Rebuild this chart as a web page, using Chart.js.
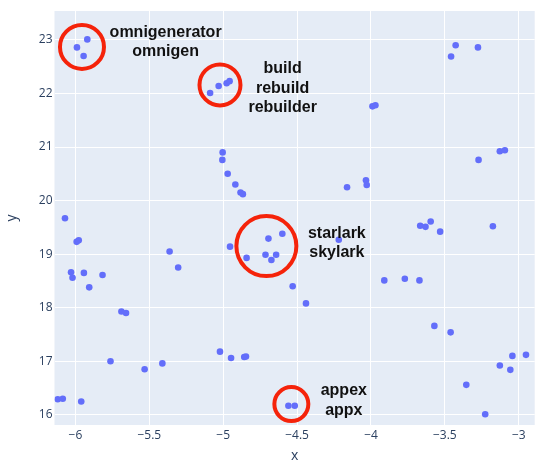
<!DOCTYPE html>
<html>
<head>
<meta charset="utf-8">
<script src="https://cdn.jsdelivr.net/npm/chart.js@4.4.1/dist/chart.umd.min.js"></script>
<style>
  html, body { margin: 0; padding: 0; background: #ffffff; }
  #wrap { width: 538px; height: 461px; }
</style>
</head>
<body>
<div id="wrap"><canvas id="chart" width="538" height="461"></canvas></div>
<script>
// point coordinates
const xs = [
  -5.99, -5.92, -5.945, -5.089, -5.031, -4.977, -4.957, -5.004, -5.006, -3.427,
  -3.458, -3.276, -3.99, -3.97, -3.128, -3.094, -3.272, -6.071, -5.992, -5.978,
  -6.03, -6.02, -5.943, -5.907, -5.817, -5.363, -5.305, -5.689, -5.658, -5.763,
  -5.532, -5.412, -6.12, -6.086, -5.961, -4.97, -4.918, -4.883, -4.867, -4.954,
  -4.842, -4.694, -4.60, -4.714, -4.642, -4.674, -4.53, -4.44, -4.218, -4.162,
  -4.034, -4.029, -3.667, -3.631, -3.596, -3.532, -3.175, -3.91, -3.771, -3.672,
  -5.022, -4.947, -4.858, -4.846, -4.559, -4.516, -3.571, -3.461, -3.355, -3.227,
  -3.128, -3.057, -3.043, -2.951
];
const ys = [
  22.86, 23.01, 22.70, 22.01, 22.14, 22.19, 22.23, 20.90, 20.76, 22.90,
  22.69, 22.86, 21.76, 21.78, 20.92, 20.94, 20.76, 19.67, 19.23, 19.26,
  18.66, 18.56, 18.65, 18.38, 18.61, 19.05, 18.75, 17.93, 17.90, 17.00,
  16.85, 16.96, 16.29, 16.30, 16.25, 20.50, 20.30, 20.15, 20.12, 19.14,
  18.93, 19.29, 19.38, 18.99, 18.99, 18.89, 18.40, 18.08, 19.27, 20.25,
  20.38, 20.29, 19.53, 19.51, 19.61, 19.42, 19.52, 18.51, 18.54, 18.51,
  17.18, 17.06, 17.08, 17.09, 16.17, 16.17, 17.66, 17.54, 16.56, 16.01,
  16.92, 16.84, 17.10, 17.12
];

// highlighted clusters: circle centre + label centre (data units)
const circleX = [-5.956, -5.022, -4.708, -4.539];
const circleY = [22.87, 22.16, 19.15, 16.20];
const circleR = [22, 20.5, 30, 17];
const labelX = [-5.390, -4.598, -4.231, -4.184];
const labelY = [22.96, 22.10, 19.21, 16.27];
const labelText = [
  ['omnigenerator', 'omnigen'],
  ['build', 'rebuild', 'rebuilder'],
  ['starlark', 'skylark'],
  ['appex', 'appx']
];

const xMin = -6.142, xMax = -2.892;
const yMin = 15.81, yMax = 23.54;

const minus = v => String(v).replace('-', '\u2212');

const plotBg = {
  id: 'plotBg',
  beforeDraw(chart) {
    const { ctx, chartArea: a } = chart;
    ctx.save();
    ctx.fillStyle = '#E5ECF6';
    ctx.fillRect(a.left, a.top, a.right - a.left, a.bottom - a.top);
    ctx.restore();
  }
};

const marks = {
  id: 'marks',
  afterDatasetsDraw(chart) {
    const { ctx, scales: { x, y } } = chart;
    ctx.save();
    // red rings
    ctx.strokeStyle = 'rgb(245,35,10)';
    ctx.lineWidth = 4;
    for (let i = 0; i < circleX.length; i++) {
      ctx.beginPath();
      ctx.arc(x.getPixelForValue(circleX[i]), y.getPixelForValue(circleY[i]), circleR[i], 0, Math.PI * 2);
      ctx.stroke();
    }
    // labels
    ctx.fillStyle = '#111111';
    ctx.font = 'bold 16px "Liberation Sans", Arial, sans-serif';
    ctx.textAlign = 'center';
    ctx.textBaseline = 'middle';
    const lh = 19.5;
    for (let i = 0; i < labelText.length; i++) {
      const lines = labelText[i];
      const cx = x.getPixelForValue(labelX[i]);
      const cy = y.getPixelForValue(labelY[i]);
      lines.forEach((t, j) => {
        ctx.fillText(t, cx, cy + (j - (lines.length - 1) / 2) * lh);
      });
    }
    ctx.restore();
  }
};

const tickFont = { family: '"Open Sans", sans-serif', size: 12 };
const titleFont = { family: '"Open Sans", sans-serif', size: 14 };

new Chart(document.getElementById('chart').getContext('2d'), {
  type: 'scatter',
  data: {
    datasets: [{
      data: xs.map((v, i) => ({ x: v, y: ys[i] })),
      backgroundColor: '#636efa',
      borderWidth: 0,
      pointRadius: 3.3,
      pointHoverRadius: 3.3
    }]
  },
  options: {
    responsive: false,
    animation: false,
    layout: { padding: { left: 0, top: 11, right: 1, bottom: 0 } },
    plugins: {
      legend: { display: false },
      tooltip: { enabled: false }
    },
    scales: {
      x: {
        type: 'linear',
        min: xMin,
        max: xMax,
        afterFit(scale) { scale.height = 36; },
        ticks: {
          stepSize: 0.5,
          includeBounds: false,
          padding: 3,
          color: '#2a3f5f',
          font: tickFont,
          callback: v => minus(v)
        },
        grid: { color: '#ffffff', lineWidth: 1, drawTicks: false },
        border: { display: false },
        title: { display: true, text: 'x', color: '#2a3f5f', font: titleFont, padding: { top: 0, bottom: -3 } }
      },
      y: {
        type: 'linear',
        min: yMin,
        max: yMax,
        afterFit(scale) { scale.width = 54.5; },
        ticks: {
          stepSize: 1,
          includeBounds: false,
          padding: 2,
          color: '#2a3f5f',
          font: tickFont,
          callback: v => minus(v)
        },
        grid: { color: '#ffffff', lineWidth: 1, drawTicks: false },
        border: { display: false },
        title: { display: true, text: 'y', color: '#2a3f5f', font: titleFont, padding: { top: 4, bottom: 0 } }
      }
    }
  },
  plugins: [plotBg, marks]
});
</script>
</body>
</html>
